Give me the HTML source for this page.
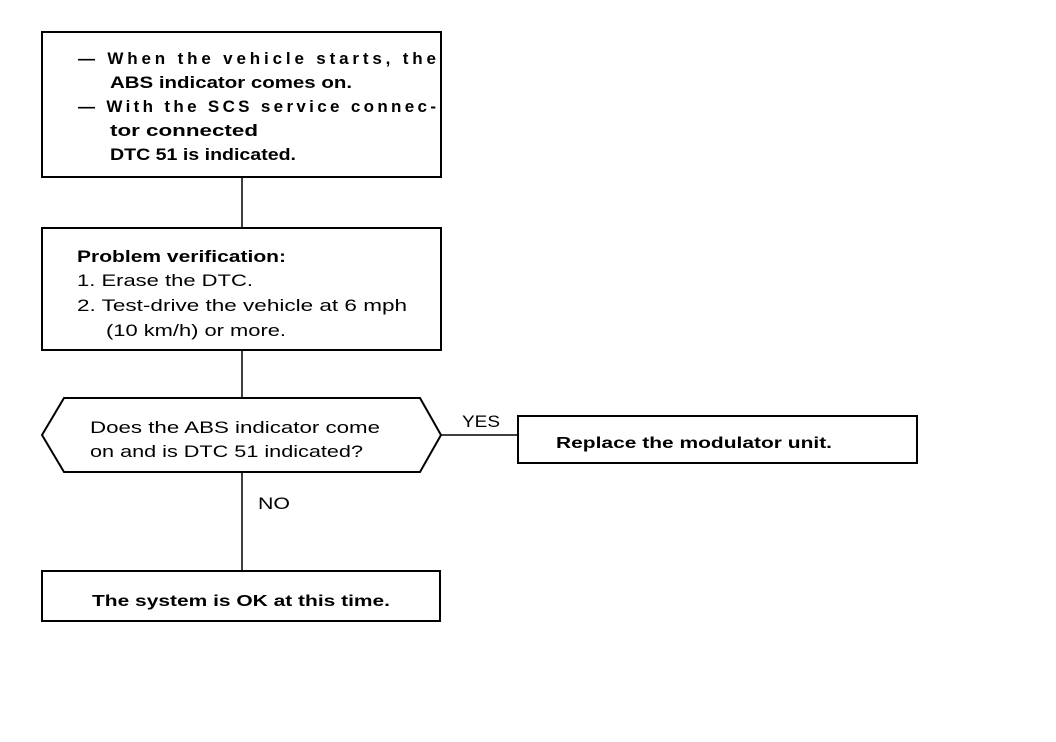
<!DOCTYPE html>
<html><head><meta charset="utf-8"><style>body{margin:0;background:#fff}svg{display:block}</style></head>
<body>
<svg width="1056" height="742" viewBox="0 0 1056 742" xmlns="http://www.w3.org/2000/svg" font-family="Liberation Sans, sans-serif" fill="#000">
<g stroke="#000" stroke-width="2" fill="none">
<rect x="42" y="32" width="399" height="145"/>
<rect x="42" y="228" width="399" height="122"/>
<polygon points="42,435 64,398 420,398 441,435 420,472 64,472"/>
<rect x="518" y="416" width="399" height="47"/>
<rect x="42" y="571" width="398" height="50"/>
<line x1="242" y1="177" x2="242" y2="228" stroke-width="1.5"/>
<line x1="242" y1="350" x2="242" y2="398" stroke-width="1.5"/>
<line x1="242" y1="472" x2="242" y2="571" stroke-width="1.5"/>
<line x1="441" y1="435" x2="518" y2="435" stroke-width="1.5"/>
</g>
<g font-weight="bold" font-size="17">
<text x="78" y="64" textLength="358" lengthAdjust="spacing">— When the vehicle starts, the</text>
<text x="110" y="88" textLength="242" lengthAdjust="spacingAndGlyphs">ABS indicator comes on.</text>
<text x="78" y="112" textLength="358" lengthAdjust="spacing">— With the SCS service connec-</text>
<text x="110" y="136" textLength="148" lengthAdjust="spacingAndGlyphs">tor connected</text>
<text x="110" y="160" textLength="186" lengthAdjust="spacingAndGlyphs">DTC 51 is indicated.</text>
<text x="77" y="262" textLength="209" lengthAdjust="spacingAndGlyphs">Problem verification:</text>
</g>
<g font-size="17">
<text x="77" y="286" textLength="176" lengthAdjust="spacingAndGlyphs">1.  Erase the DTC.</text>
<text x="77" y="311" textLength="330" lengthAdjust="spacingAndGlyphs">2.  Test-drive the vehicle at 6 mph</text>
<text x="106" y="336" textLength="180" lengthAdjust="spacingAndGlyphs">(10 km/h) or more.</text>
<text x="90" y="433" textLength="290" lengthAdjust="spacingAndGlyphs">Does the ABS indicator come</text>
<text x="90" y="457" textLength="273" lengthAdjust="spacingAndGlyphs">on and is DTC 51 indicated?</text>
<text x="462" y="427" textLength="38" lengthAdjust="spacingAndGlyphs">YES</text>
<text x="258" y="509" textLength="32" lengthAdjust="spacingAndGlyphs">NO</text>
</g>
<g font-weight="bold" font-size="16">
<text x="556" y="448" textLength="276" lengthAdjust="spacingAndGlyphs">Replace the modulator unit.</text>
<text x="92" y="606" textLength="298" lengthAdjust="spacingAndGlyphs">The system is OK at this time.</text>
</g>
</svg>
</body></html>
